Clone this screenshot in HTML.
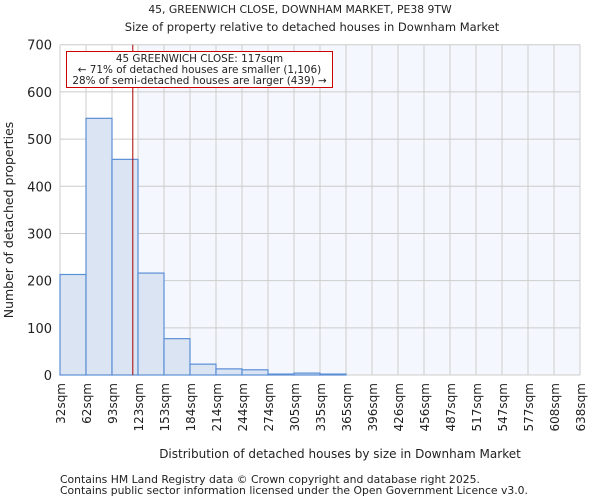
<!DOCTYPE html>
<html><head><meta charset="utf-8"><style>
body{margin:0;background:#fff;font-family:"DejaVu Sans","Liberation Sans",sans-serif}
svg text{font-family:"DejaVu Sans","Liberation Sans",sans-serif;fill:#222}
</style></head><body>
<svg id="c" width="600" height="500">
<text x="300" y="13" font-size="10.8" text-anchor="middle">45, GREENWICH CLOSE, DOWNHAM MARKET, PE38 9TW</text>
<text x="312" y="31" font-size="11.5" text-anchor="middle">Size of property relative to detached houses in Downham Market</text>
<g id="plot"></g>
<text x="340" y="458" font-size="12" text-anchor="middle">Distribution of detached houses by size in Downham Market</text>
<text transform="translate(13,220) rotate(-90)" font-size="12.5" text-anchor="middle">Number of detached properties</text>
<text x="60" y="483" font-size="10.8">Contains HM Land Registry data © Crown copyright and database right 2025.</text>
<text x="60" y="494" font-size="10.8">Contains public sector information licensed under the Open Government Licence v3.0.</text>
</svg>
<script>
const binLabels=["32sqm","62sqm","93sqm","123sqm","153sqm","184sqm","214sqm","244sqm","274sqm","305sqm","335sqm","365sqm","396sqm","426sqm","456sqm","487sqm","517sqm","547sqm","577sqm","608sqm","638sqm"];
const counts=[213,544,457,216,77,23,13,11,2,4,2,0,0,0,0,0,0,0,0,0];
const yTicks=[0,100,200,300,400,500,600,700];
const propertyBin=2.8;
const NS="http://www.w3.org/2000/svg";
const L=60,R=580,T=44.7,B=375,yMax=700;
const bw=(R-L)/counts.length;
const xs=i=>L+i*bw;
const ys=v=>B-(v/yMax)*(B-T);
const g=document.getElementById('plot');
function el(t,a){const e=document.createElementNS(NS,t);for(const k in a)e.setAttribute(k,a[k]);g.appendChild(e);return e;}
const shade=el('rect',{x:xs(Math.ceil(propertyBin)),y:T,width:R-xs(Math.ceil(propertyBin)),height:B-T,fill:'#f4f7fd'});


yTicks.forEach(v=>{
 const ln=el('line',{x1:L,x2:R,y1:ys(v),y2:ys(v),stroke:'#cccccc','stroke-width':1});
 
 
 const t=el('text',{x:L-8,y:ys(v)+5,'font-size':13,'text-anchor':'end'});t.textContent=v;
 
 
});
binLabels.forEach((s,i)=>{
 const ln=el('line',{x1:xs(i),x2:xs(i),y1:T,y2:B,stroke:'#cccccc','stroke-width':1});
 
 
 const t=el('text',{transform:`translate(${xs(i)+5},${B+8}) rotate(-90)`,'font-size':12,'text-anchor':'end'});t.textContent=s;
 
 
});
counts.forEach((v,i)=>{
 if(v<=0)return;
 const r=el('rect',{x:xs(i),y:ys(v),width:bw,height:B-ys(v),fill:'#dae4f3',stroke:'#5b8fd6','stroke-width':1.2});
 
 
});
const px=xs(propertyBin);
const pl=el('line',{x1:px,x2:px,y1:T,y2:B,stroke:'#aa0000','stroke-width':1});


const box=el('rect',{x:66.5,y:51.5,width:266,height:36,fill:'#fff',stroke:'#cc0000','stroke-width':1});


["45 GREENWICH CLOSE: 117sqm","← 71% of detached houses are smaller (1,106)","28% of semi-detached houses are larger (439) →"].forEach((s,i)=>{
 const t=el('text',{x:199.5,y:62+i*11,'font-size':10.4,'text-anchor':'middle'});t.textContent=s;
 
 
});
</script>
</body></html>
